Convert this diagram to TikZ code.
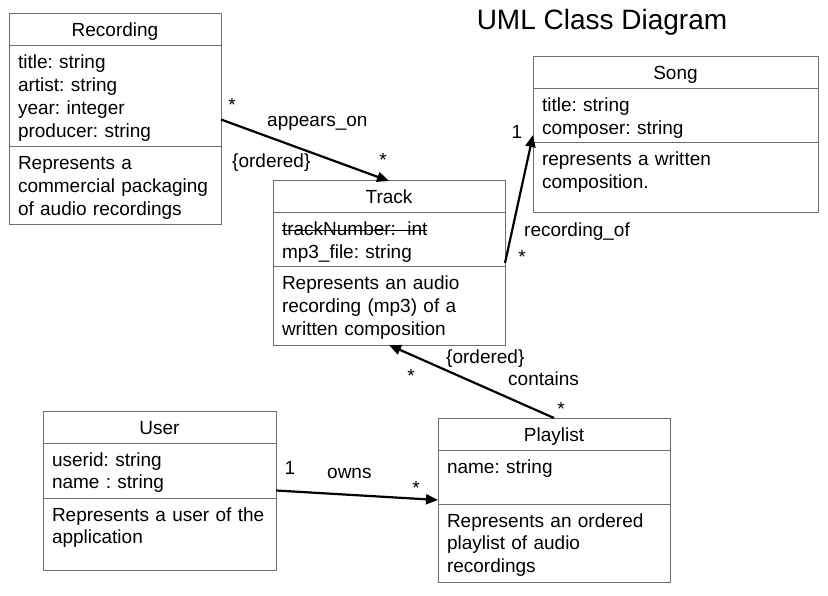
\documentclass[tikz,border=0pt]{standalone}
\usepackage{fontspec}
\setmainfont{Liberation Sans}
\usetikzlibrary{arrows.meta, positioning, fit}
\definecolor{boxgray}{RGB}{110,110,110}
\newsavebox{\strikebox}
\newcommand{\strikeout}[1]{\sbox{\strikebox}{#1}\rlap{\usebox{\strikebox}}\rule[0.26em]{\wd\strikebox}{0.06em}}
\frenchspacing

\begin{document}
\begin{tikzpicture}[x=1pt, y=-1pt, node distance=0pt, font=\fontsize{19}{22.7}\selectfont]

        % Define styles
        \tikzstyle{classhead} = [rectangle, draw=boxgray, line width=1pt, outer sep=0pt, anchor=north west, inner xsep=9pt, inner ysep=7pt, text height=16pt, text depth=2pt, align=center]
        \tikzstyle{classbody} = [rectangle, draw=boxgray, line width=1pt, outer sep=0pt, inner xsep=9pt, inner ysep=5pt, text height=18pt, align=left]
        \tikzstyle{classfit} = [inner sep=0pt, outer sep=0pt]
        \tikzstyle{assoc} = [draw, line width=2.2pt, -{Triangle[length=12pt, width=10pt]}]
        \tikzstyle{mult} = [anchor=base, inner sep=0pt]
        \tikzstyle{role} = [anchor=base west, inner sep=0pt]

        \fill [white] (0,0) rectangle (828,596);
        \useasboundingbox (0,0) rectangle (828,596);

        \node [anchor=base, font=\fontsize{28}{33}\selectfont] (title) at (602,30) {UML Class Diagram};

        % Recording
        \node [classhead, text width=194pt] (recordinghead) at (9,14) {Recording};
        \node [classbody, text width=194pt, text depth=73pt, below=of recordinghead] (recordingattr) {title: string\\ artist: string\\ year: integer\\ producer: string};
        \node [classbody, text width=194pt, text depth=50pt, below=of recordingattr] (recordingdesc) {Represents a\\ commercial packaging\\ of audio recordings};
        \node [classfit, fit=(recordinghead)(recordingdesc)] (recording) {};

        % Track
        \node [classhead, text width=214pt] (trackhead) at (273,181) {Track};
        \node [classbody, text width=214pt, text depth=26pt, below=of trackhead] (trackattr) {\strikeout{trackNumber:\hspace{0.6em}int}\\ mp3\_file: string};
        \node [classbody, text width=214pt, text depth=50pt, below=of trackattr] (trackdesc) {Represents an audio\\ recording (mp3) of a\\ written composition};
        \node [classfit, fit=(trackhead)(trackdesc)] (track) {};

        % Song
        \node [classhead, text width=267pt] (songhead) at (533,57) {Song};
        \node [classbody, text width=267pt, text depth=26pt, below=of songhead] (songattr) {title: string\\ composer: string};
        \node [classbody, text width=267pt, text depth=42pt, below=of songattr] (songdesc) {represents a written\\ composition.};
        \node [classfit, fit=(songhead)(songdesc)] (song) {};

        % User
        \node [classhead, text width=215pt] (userhead) at (43,411) {User};
        \node [classbody, text width=215pt, text depth=27pt, below=of userhead] (userattr) {userid: string\\ name : string};
        \node [classbody, text width=215pt, text depth=44pt, below=of userattr] (userdesc) {Represents a user of the\\ application};
        \node [classfit, fit=(userhead)(userdesc)] (user) {};

        % Playlist
        \node [classhead, text width=214pt] (playlisthead) at (438,418) {Playlist};
        \node [classbody, text width=214pt, text depth=26pt, below=of playlisthead] (playlistattr) {name: string};
        \node [classbody, text width=214pt, text depth=50pt, below=of playlistattr] (playlistdesc) {Represents an ordered\\ playlist of audio\\ recordings};
        \node [classfit, fit=(playlisthead)(playlistdesc)] (playlist) {};

        % Associations
        \path [assoc] (recording.east) -- (track.north);
        \path [assoc] (track.east) -- (song.west);
        \path [assoc] (playlist.north) -- (track.south);
        \path [assoc] (user.east) -- (playlist.west);

        % Labels
        \node [mult] (recordingmult) at (232,112) {*};
        \node [role] (appearsonlabel) at (267,127) {appears\_on};
        \node [role] (orderedtop) at (232,168) {\{ordered\}};
        \node [mult] (trackmulttop) at (383,167) {*};
        \node [mult] (songmult) at (517,139) {1};
        \node [role] (recordingoflabel) at (524,237) {recording\_of};
        \node [mult] (trackmultright) at (522,264) {*};
        \node [role] (orderedbottom) at (446,363) {\{ordered\}};
        \node [role] (containslabel) at (508,385) {contains};
        \node [mult] (trackmultbottom) at (411,382) {*};
        \node [mult] (playlistmulttop) at (561,415) {*};
        \node [mult] (usermult) at (290,474) {1};
        \node [role] (ownslabel) at (327,478) {owns};
        \node [mult] (playlistmultleft) at (416,494) {*};

    \end{tikzpicture}
\end{document}
